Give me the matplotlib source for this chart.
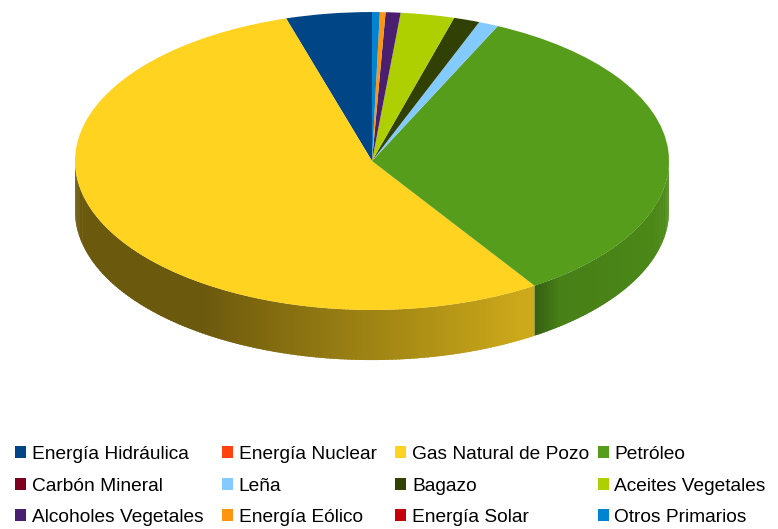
import numpy as np
import matplotlib
matplotlib.use("Agg")
import matplotlib.pyplot as plt
from matplotlib.colors import to_rgb

plt.rcParams['font.family'] = ['Liberation Sans', 'DejaVu Sans']

# share of primary energy supply (%), legend order
labels = ['Energía Hidráulica', 'Energía Nuclear', 'Gas Natural de Pozo', 'Petróleo',
          'Carbón Mineral', 'Leña', 'Bagazo', 'Aceites Vegetales',
          'Alcoholes Vegetales', 'Energía Eólico', 'Energía Solar', 'Otros Primarios']
values = [4.67, 0.0, 54.56, 33.83, 0.0, 1.08, 1.42, 2.92, 0.81, 0.31, 0.0, 0.42]
colors = ['#004586', '#ff420e', '#ffd320', '#579d1c', '#7e0021', '#83caff',
          '#314004', '#aecf00', '#4b1f6f', '#ff950e', '#c5000b', '#0084d1']

thickness = 0.336   # height of the disc wall, in units of the vertical radius


def wall_shade(t):
    # darker on the left of the front wall, lighter towards the lower right
    if t < 235:
        return 0.42
    if t < 300:
        return 0.42 + (t - 235) / 65 * 0.38
    return 0.80 + (t - 300) / 60 * 0.10


fig = plt.figure(figsize=(7.78, 5.29), dpi=100)
ax = fig.add_axes([0, 0.2439, 1, 0.756])

# slice edges in degrees, counter-clockwise from 12 o'clock
total = sum(values)
edges = 90 + np.concatenate([[0], np.cumsum(values)]) / total * 360

# front wall, drawn in thin overlapping strips so it can be shaded along the arc
for i, c in enumerate(colors):
    a0 = max(edges[i], 180)
    a1 = min(edges[i + 1], 360)
    if a1 <= a0:
        continue
    base = np.array(to_rgb(c))
    steps = np.linspace(a0, a1, max(2, int((a1 - a0) / 0.7) + 1))
    for t0, t1 in zip(steps[:-1], steps[1:]):
        tm = 0.5 * (t0 + t1)
        s = wall_shade(tm)
        # slight darkening where a slice starts
        if tm - a0 < 6 and a0 > 180:
            s *= 0.75 + 0.25 * (tm - a0) / 6
        col = np.clip(base * s, 0, 1)
        t1 = min(t1 + 0.5, a1)
        tt = np.radians(np.linspace(t0, t1, 4))
        xs = np.concatenate([np.cos(tt), np.cos(tt[::-1])])
        ys = np.concatenate([np.sin(tt), np.sin(tt[::-1]) - thickness])
        ax.fill(xs, ys, color=col, linewidth=0)

# top face
wedges, _ = ax.pie(values, colors=colors, startangle=90, counterclock=True,
                   radius=1, center=(0, 0), wedgeprops=dict(linewidth=0))
for w in wedges:
    w.set_zorder(5)

ax.set_aspect('auto')
ax.set_xlim(-1.2525, 1.367)
ax.set_ylim(-1.604, 1.0805)
ax.axis('off')

# legend: 3 rows x 4 columns, read row by row; one legend box per column
n_rows, n_cols = 3, 4
col_x = [0.019, 0.285, 0.508, 0.768]
for c in range(n_cols):
    idx = [r * n_cols + c for r in range(n_rows)]
    fig.legend([wedges[k] for k in idx], [labels[k] for k in idx],
               loc='upper left', bbox_to_anchor=(col_x[c], 0.157),
               frameon=False, fontsize=13.8, handlelength=0.58, handleheight=0.58,
               handletextpad=0.3, labelspacing=0.76,
               borderaxespad=0, borderpad=0)

fig.savefig('out.png', dpi=100)
